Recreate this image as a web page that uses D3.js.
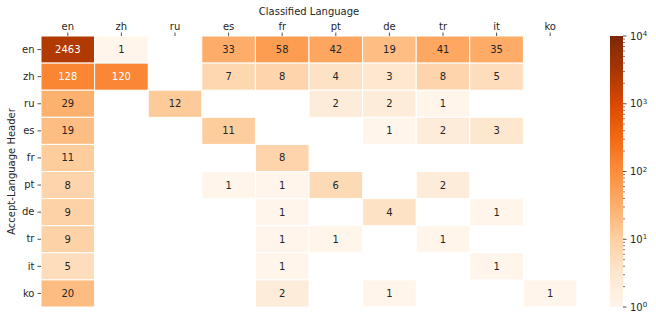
<!DOCTYPE html>
<html>
<head>
  <meta charset="utf-8">
  <title>Accept-Language vs Classified Language</title>
  <style>
    body { margin: 0; background: #fff; font-family: "DejaVu Sans", sans-serif; }
    svg text { fill: #262626; }
  </style>
  <script src="https://d3js.org/d3.v7.min.js"></script>
</head>
<body>
  <svg id="chart" width="656" height="323"></svg>
  <script>
    var width = 656,
        height = 323;

    // classified language (columns) and Accept-Language header (rows)
    var columns = ["en", "zh", "ru", "es", "fr", "pt", "de", "tr", "it", "ko"];
    var rows = ["en", "zh", "ru", "es", "fr", "pt", "de", "tr", "it", "ko"];

    // null = no observations (left blank)
    var rowEn = [2463, 1, null, 33, 58, 42, 19, 41, 35, null];
    var rowZh = [128, 120, null, 7, 8, 4, 3, 8, 5, null];
    var rowRu = [29, null, 12, null, null, 2, 2, 1, null, null];
    var rowEs = [19, null, null, 11, null, null, 1, 2, 3, null];
    var rowFr = [11, null, null, null, 8, null, null, null, null, null];
    var rowPt = [8, null, null, 1, 1, 6, null, 2, null, null];
    var rowDe = [9, null, null, null, 1, null, 4, null, 1, null];
    var rowTr = [9, null, null, null, 1, 1, null, 1, null, null];
    var rowIt = [5, null, null, null, 1, null, null, null, 1, null];
    var rowKo = [20, null, null, null, 2, null, 1, null, null, 1];
    var matrix = [rowEn, rowZh, rowRu, rowEs, rowFr, rowPt, rowDe, rowTr, rowIt, rowKo];

    var colorbarTicks = [1, 10, 100, 1000, 10000];

    var svg = d3.select("#chart");

    var plotLeft = 41, plotRight = 577, plotTop = 36, plotBottom = 307;

    var x = d3.scaleBand().domain(columns).range([plotLeft, plotRight]);
    var y = d3.scaleBand().domain(rows).range([plotTop, plotBottom]);

    // matplotlib "Oranges" (linear through the 9 ColorBrewer stops)
    var orangeStops = ["#fff5eb", "#fee6ce", "#fdd0a2", "#fdae6b", "#fd8d3c", "#f16913", "#d94801", "#a63603", "#7f2704"];
    var ramp = d3.scaleLinear()
        .domain(d3.range(9).map(i => i / 8))
        .range(orangeStops)
        .interpolate(d3.interpolateRgb)
        .clamp(true);
    var norm = d3.scaleLog().domain([1, 10000]).range([0, 1]).clamp(true);
    var color = v => ramp(norm(v));

    function textColor(c) {
      var rgb = d3.rgb(c);
      var lin = [rgb.r, rgb.g, rgb.b].map(function(v) {
        v = v / 255;
        return v <= 0.03928 ? v / 12.92 : Math.pow((v + 0.055) / 1.055, 2.4);
      });
      var lum = 0.2126 * lin[0] + 0.7152 * lin[1] + 0.0722 * lin[2];
      return lum > 0.408 ? "#262626" : "#ffffff";
    }

    var cells = [];
    matrix.forEach(function(r, i) {
      r.forEach(function(v, j) {
        if (v != null) cells.push({ row: rows[i], col: columns[j], value: v });
      });
    });

    var cellG = svg.append("g");
    cellG.selectAll("rect")
        .data(cells)
        .join("rect")
        .attr("x", d => x(d.col))
        .attr("y", d => y(d.row))
        .attr("width", x.bandwidth())
        .attr("height", y.bandwidth())
        .attr("fill", d => color(d.value))
        .attr("stroke", "#fff")
        .attr("stroke-width", 1);

    cellG.selectAll("text")
        .data(cells)
        .join("text")
        .attr("x", d => x(d.col) + x.bandwidth() / 2)
        .attr("y", d => y(d.row) + y.bandwidth() / 2)
        .attr("text-anchor", "middle")
        .attr("dominant-baseline", "central")
        .style("font-size", "10px")
        .style("fill", d => textColor(color(d.value)))
        .text(d => d.value);

    // top axis
    var xAxis = svg.append("g")
        .attr("transform", "translate(0," + plotTop + ")")
        .call(d3.axisTop(x).tickSize(3.5).tickPadding(3));
    xAxis.select(".domain").remove();
    xAxis.selectAll("text").style("font-size", "10px").style("font-family", "DejaVu Sans").attr("fill", "#262626");
    xAxis.selectAll("line").attr("stroke", "#262626").attr("stroke-width", 0.8);

    var yAxis = svg.append("g")
        .attr("transform", "translate(" + plotLeft + ",0)")
        .call(d3.axisLeft(y).tickSize(3.5).tickPadding(3));
    yAxis.select(".domain").remove();
    yAxis.selectAll("text").style("font-size", "10px").style("font-family", "DejaVu Sans").attr("fill", "#262626");
    yAxis.selectAll("line").attr("stroke", "#262626").attr("stroke-width", 0.8);

    svg.append("text")
        .attr("x", (plotLeft + plotRight) / 2)
        .attr("y", 15)
        .attr("text-anchor", "middle")
        .style("font-size", "10px")
        .text("Classified Language");

    svg.append("text")
        .attr("transform", "translate(15," + ((plotTop + plotBottom) / 2) + ") rotate(-90)")
        .attr("text-anchor", "middle")
        .style("font-size", "10px")
        .text("Accept-Language Header");

    // colorbar
    var cbX = 610, cbW = 13;
    var cbScale = d3.scaleLog().domain([1, 10000]).range([plotBottom, plotTop]);
    var defs = svg.append("defs");
    var grad = defs.append("linearGradient")
        .attr("id", "cbGrad")
        .attr("x1", 0).attr("y1", 1).attr("x2", 0).attr("y2", 0);
    d3.range(0, 1.0001, 0.0625).forEach(function(t) {
      grad.append("stop").attr("offset", t).attr("stop-color", ramp(t));
    });
    svg.append("rect")
        .attr("x", cbX)
        .attr("y", plotTop)
        .attr("width", cbW)
        .attr("height", plotBottom - plotTop)
        .attr("fill", "url(#cbGrad)");

    var minor = [];
    for (var e = 0; e < 4; e++) {
      for (var m = 2; m < 10; m++) minor.push(m * Math.pow(10, e));
    }
    svg.append("g").selectAll("line")
        .data(minor)
        .join("line")
        .attr("x1", cbX + cbW).attr("x2", cbX + cbW + 2)
        .attr("y1", d => cbScale(d)).attr("y2", d => cbScale(d))
        .attr("stroke", "#262626").attr("stroke-width", 0.6);

    var major = svg.append("g").selectAll("g")
        .data(colorbarTicks)
        .join("g")
        .attr("transform", d => "translate(" + (cbX + cbW) + "," + cbScale(d) + ")");
    major.append("line")
        .attr("x2", 3.5)
        .attr("stroke", "#262626").attr("stroke-width", 0.8);
    var lbl = major.append("text")
        .attr("x", 7)
        .attr("dy", "0.35em")
        .style("font-size", "10px");
    lbl.append("tspan").text("10");
    lbl.append("tspan")
        .attr("dy", "-0.5em")
        .style("font-size", "7px")
        .text(d => Math.round(Math.log10(d)));
  </script>
</body>
</html>
